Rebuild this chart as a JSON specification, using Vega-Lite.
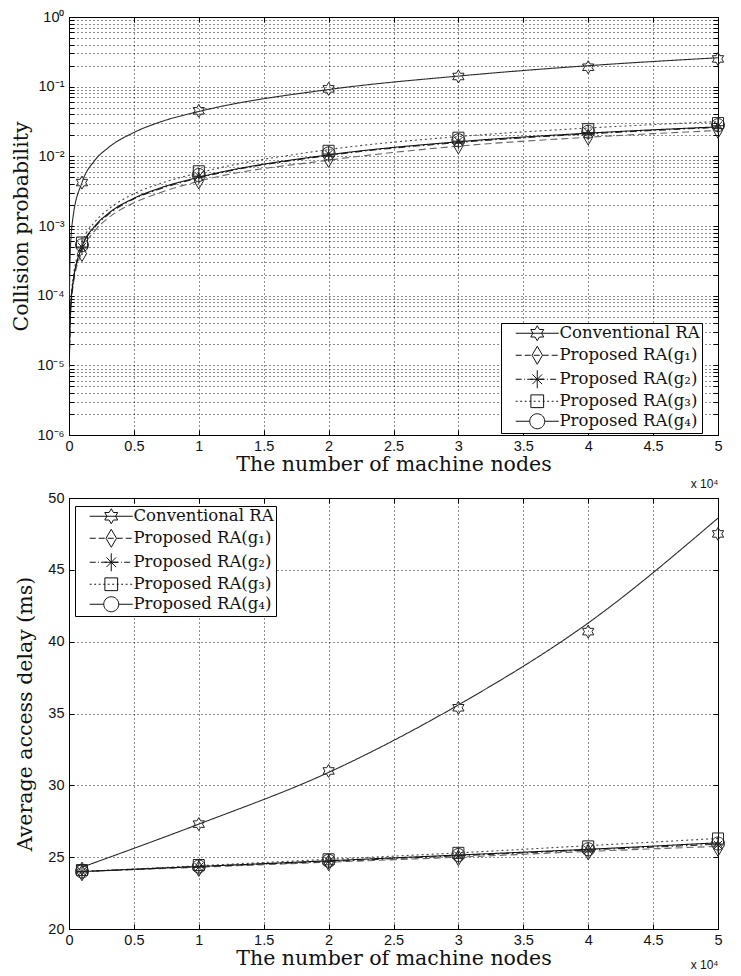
{
  "$schema": "https://vega.github.io/schema/vega-lite/v6.json",
  "autosize": {"type": "pad"},
  "padding": {"left": 11, "top": 8, "right": 0, "bottom": 0},
  "background": "white",
  "spacing": 63,
  "bounds": "flush",
  "config": {
    "view": {"stroke": "black", "strokeWidth": 1},
    "axis": {
      "domainColor": "black", "tickColor": "black", "labelColor": "#111",
      "labelFont": "Liberation Sans", "labelFontSize": 14.5,
      "titleFont": "DejaVu Serif", "titleFontSize": 20.5, "titleFontWeight": "normal", "titleColor": "#111",
      "gridColor": "#000", "gridDash": [1, 3], "gridOpacity": 0.9, "gridWidth": 1,
      "tickSize": -5, "labelOverlap": false, "labelFlush": false
    }
  },
  "datasets": {
    "topLine": [
      {"x": 0.002, "y": 0.000086, "series": "Conventional RA"},
      {"x": 0.01, "y": 0.00043, "series": "Conventional RA"},
      {"x": 0.03, "y": 0.0013, "series": "Conventional RA"},
      {"x": 0.1, "y": 0.0042, "series": "Conventional RA"},
      {"x": 0.2, "y": 0.0088, "series": "Conventional RA"},
      {"x": 0.3, "y": 0.0132, "series": "Conventional RA"},
      {"x": 0.5, "y": 0.022, "series": "Conventional RA"},
      {"x": 0.7, "y": 0.031, "series": "Conventional RA"},
      {"x": 1, "y": 0.044, "series": "Conventional RA"},
      {"x": 2, "y": 0.091, "series": "Conventional RA"},
      {"x": 3, "y": 0.142, "series": "Conventional RA"},
      {"x": 4, "y": 0.2, "series": "Conventional RA"},
      {"x": 5, "y": 0.26, "series": "Conventional RA"},
      {"x": 0.002, "y": 0.0000085, "series": "Proposed RA(g₁)"},
      {"x": 0.01, "y": 0.000043, "series": "Proposed RA(g₁)"},
      {"x": 0.03, "y": 0.00013, "series": "Proposed RA(g₁)"},
      {"x": 0.1, "y": 0.00043, "series": "Proposed RA(g₁)"},
      {"x": 0.2, "y": 0.00086, "series": "Proposed RA(g₁)"},
      {"x": 0.3, "y": 0.00129, "series": "Proposed RA(g₁)"},
      {"x": 0.5, "y": 0.00215, "series": "Proposed RA(g₁)"},
      {"x": 0.7, "y": 0.003, "series": "Proposed RA(g₁)"},
      {"x": 1, "y": 0.0044, "series": "Proposed RA(g₁)"},
      {"x": 2, "y": 0.0088, "series": "Proposed RA(g₁)"},
      {"x": 3, "y": 0.014, "series": "Proposed RA(g₁)"},
      {"x": 4, "y": 0.0188, "series": "Proposed RA(g₁)"},
      {"x": 5, "y": 0.0235, "series": "Proposed RA(g₁)"},
      {"x": 0.002, "y": 0.0000095, "series": "Proposed RA(g₂)"},
      {"x": 0.01, "y": 0.000048, "series": "Proposed RA(g₂)"},
      {"x": 0.03, "y": 0.000145, "series": "Proposed RA(g₂)"},
      {"x": 0.1, "y": 0.00048, "series": "Proposed RA(g₂)"},
      {"x": 0.2, "y": 0.00097, "series": "Proposed RA(g₂)"},
      {"x": 0.3, "y": 0.00145, "series": "Proposed RA(g₂)"},
      {"x": 0.5, "y": 0.00245, "series": "Proposed RA(g₂)"},
      {"x": 0.7, "y": 0.0034, "series": "Proposed RA(g₂)"},
      {"x": 1, "y": 0.0049, "series": "Proposed RA(g₂)"},
      {"x": 2, "y": 0.0103, "series": "Proposed RA(g₂)"},
      {"x": 3, "y": 0.0158, "series": "Proposed RA(g₂)"},
      {"x": 4, "y": 0.021, "series": "Proposed RA(g₂)"},
      {"x": 5, "y": 0.026, "series": "Proposed RA(g₂)"},
      {"x": 0.002, "y": 0.0000115, "series": "Proposed RA(g₃)"},
      {"x": 0.01, "y": 0.000057, "series": "Proposed RA(g₃)"},
      {"x": 0.03, "y": 0.00017, "series": "Proposed RA(g₃)"},
      {"x": 0.1, "y": 0.00057, "series": "Proposed RA(g₃)"},
      {"x": 0.2, "y": 0.00115, "series": "Proposed RA(g₃)"},
      {"x": 0.3, "y": 0.00172, "series": "Proposed RA(g₃)"},
      {"x": 0.5, "y": 0.0029, "series": "Proposed RA(g₃)"},
      {"x": 0.7, "y": 0.00405, "series": "Proposed RA(g₃)"},
      {"x": 1, "y": 0.0058, "series": "Proposed RA(g₃)"},
      {"x": 2, "y": 0.0125, "series": "Proposed RA(g₃)"},
      {"x": 3, "y": 0.0192, "series": "Proposed RA(g₃)"},
      {"x": 4, "y": 0.0255, "series": "Proposed RA(g₃)"},
      {"x": 5, "y": 0.0315, "series": "Proposed RA(g₃)"},
      {"x": 0.002, "y": 0.00001, "series": "Proposed RA(g₄)"},
      {"x": 0.01, "y": 0.00005, "series": "Proposed RA(g₄)"},
      {"x": 0.03, "y": 0.00015, "series": "Proposed RA(g₄)"},
      {"x": 0.1, "y": 0.0005, "series": "Proposed RA(g₄)"},
      {"x": 0.2, "y": 0.001, "series": "Proposed RA(g₄)"},
      {"x": 0.3, "y": 0.0015, "series": "Proposed RA(g₄)"},
      {"x": 0.5, "y": 0.0025, "series": "Proposed RA(g₄)"},
      {"x": 0.7, "y": 0.0035, "series": "Proposed RA(g₄)"},
      {"x": 1, "y": 0.005, "series": "Proposed RA(g₄)"},
      {"x": 2, "y": 0.0105, "series": "Proposed RA(g₄)"},
      {"x": 3, "y": 0.0162, "series": "Proposed RA(g₄)"},
      {"x": 4, "y": 0.0215, "series": "Proposed RA(g₄)"},
      {"x": 5, "y": 0.0265, "series": "Proposed RA(g₄)"}
    ],
    "topSim": [
      {"x": 0.1, "y": 0.0042, "series": "Conventional RA"},
      {"x": 1, "y": 0.045, "series": "Conventional RA"},
      {"x": 2, "y": 0.093, "series": "Conventional RA"},
      {"x": 3, "y": 0.14, "series": "Conventional RA"},
      {"x": 4, "y": 0.19, "series": "Conventional RA"},
      {"x": 5, "y": 0.25, "series": "Conventional RA"},
      {"x": 0.1, "y": 0.0004, "series": "Proposed RA(g₁)"},
      {"x": 1, "y": 0.0044, "series": "Proposed RA(g₁)"},
      {"x": 2, "y": 0.009, "series": "Proposed RA(g₁)"},
      {"x": 3, "y": 0.014, "series": "Proposed RA(g₁)"},
      {"x": 4, "y": 0.0188, "series": "Proposed RA(g₁)"},
      {"x": 5, "y": 0.0235, "series": "Proposed RA(g₁)"},
      {"x": 0.1, "y": 0.0005, "series": "Proposed RA(g₂)"},
      {"x": 1, "y": 0.0052, "series": "Proposed RA(g₂)"},
      {"x": 2, "y": 0.0108, "series": "Proposed RA(g₂)"},
      {"x": 3, "y": 0.0165, "series": "Proposed RA(g₂)"},
      {"x": 4, "y": 0.022, "series": "Proposed RA(g₂)"},
      {"x": 5, "y": 0.0275, "series": "Proposed RA(g₂)"},
      {"x": 0.1, "y": 0.00058, "series": "Proposed RA(g₃)"},
      {"x": 1, "y": 0.0061, "series": "Proposed RA(g₃)"},
      {"x": 2, "y": 0.012, "series": "Proposed RA(g₃)"},
      {"x": 3, "y": 0.0185, "series": "Proposed RA(g₃)"},
      {"x": 4, "y": 0.0245, "series": "Proposed RA(g₃)"},
      {"x": 5, "y": 0.03, "series": "Proposed RA(g₃)"},
      {"x": 0.1, "y": 0.00053, "series": "Proposed RA(g₄)"},
      {"x": 1, "y": 0.0054, "series": "Proposed RA(g₄)"},
      {"x": 2, "y": 0.011, "series": "Proposed RA(g₄)"},
      {"x": 3, "y": 0.017, "series": "Proposed RA(g₄)"},
      {"x": 4, "y": 0.0225, "series": "Proposed RA(g₄)"},
      {"x": 5, "y": 0.028, "series": "Proposed RA(g₄)"}
    ],
    "botLine": [
      {"x": 0.1, "y": 24.3, "series": "Conventional RA"},
      {"x": 1, "y": 27.3, "series": "Conventional RA"},
      {"x": 2, "y": 30.9, "series": "Conventional RA"},
      {"x": 3, "y": 35.6, "series": "Conventional RA"},
      {"x": 4, "y": 41.3, "series": "Conventional RA"},
      {"x": 5, "y": 48.6, "series": "Conventional RA"},
      {"x": 0.1, "y": 24.0, "series": "Proposed RA(g₁)"},
      {"x": 1, "y": 24.3, "series": "Proposed RA(g₁)"},
      {"x": 2, "y": 24.65, "series": "Proposed RA(g₁)"},
      {"x": 3, "y": 25.0, "series": "Proposed RA(g₁)"},
      {"x": 4, "y": 25.4, "series": "Proposed RA(g₁)"},
      {"x": 5, "y": 25.75, "series": "Proposed RA(g₁)"},
      {"x": 0.1, "y": 24.0, "series": "Proposed RA(g₂)"},
      {"x": 1, "y": 24.35, "series": "Proposed RA(g₂)"},
      {"x": 2, "y": 24.7, "series": "Proposed RA(g₂)"},
      {"x": 3, "y": 25.1, "series": "Proposed RA(g₂)"},
      {"x": 4, "y": 25.5, "series": "Proposed RA(g₂)"},
      {"x": 5, "y": 25.9, "series": "Proposed RA(g₂)"},
      {"x": 0.1, "y": 24.0, "series": "Proposed RA(g₃)"},
      {"x": 1, "y": 24.4, "series": "Proposed RA(g₃)"},
      {"x": 2, "y": 24.85, "series": "Proposed RA(g₃)"},
      {"x": 3, "y": 25.3, "series": "Proposed RA(g₃)"},
      {"x": 4, "y": 25.8, "series": "Proposed RA(g₃)"},
      {"x": 5, "y": 26.3, "series": "Proposed RA(g₃)"},
      {"x": 0.1, "y": 24.0, "series": "Proposed RA(g₄)"},
      {"x": 1, "y": 24.35, "series": "Proposed RA(g₄)"},
      {"x": 2, "y": 24.75, "series": "Proposed RA(g₄)"},
      {"x": 3, "y": 25.15, "series": "Proposed RA(g₄)"},
      {"x": 4, "y": 25.55, "series": "Proposed RA(g₄)"},
      {"x": 5, "y": 26.0, "series": "Proposed RA(g₄)"}
    ],
    "botSim": [
      {"x": 0.1, "y": 24.2, "series": "Conventional RA"},
      {"x": 1, "y": 27.3, "series": "Conventional RA"},
      {"x": 2, "y": 31.0, "series": "Conventional RA"},
      {"x": 3, "y": 35.4, "series": "Conventional RA"},
      {"x": 4, "y": 40.7, "series": "Conventional RA"},
      {"x": 5, "y": 47.5, "series": "Conventional RA"},
      {"x": 0.1, "y": 23.9, "series": "Proposed RA(g₁)"},
      {"x": 1, "y": 24.2, "series": "Proposed RA(g₁)"},
      {"x": 2, "y": 24.6, "series": "Proposed RA(g₁)"},
      {"x": 3, "y": 24.95, "series": "Proposed RA(g₁)"},
      {"x": 4, "y": 25.35, "series": "Proposed RA(g₁)"},
      {"x": 5, "y": 25.6, "series": "Proposed RA(g₁)"},
      {"x": 0.1, "y": 24.0, "series": "Proposed RA(g₂)"},
      {"x": 1, "y": 24.3, "series": "Proposed RA(g₂)"},
      {"x": 2, "y": 24.7, "series": "Proposed RA(g₂)"},
      {"x": 3, "y": 25.1, "series": "Proposed RA(g₂)"},
      {"x": 4, "y": 25.5, "series": "Proposed RA(g₂)"},
      {"x": 5, "y": 25.85, "series": "Proposed RA(g₂)"},
      {"x": 0.1, "y": 24.1, "series": "Proposed RA(g₃)"},
      {"x": 1, "y": 24.45, "series": "Proposed RA(g₃)"},
      {"x": 2, "y": 24.85, "series": "Proposed RA(g₃)"},
      {"x": 3, "y": 25.3, "series": "Proposed RA(g₃)"},
      {"x": 4, "y": 25.75, "series": "Proposed RA(g₃)"},
      {"x": 5, "y": 26.3, "series": "Proposed RA(g₃)"},
      {"x": 0.1, "y": 24.0, "series": "Proposed RA(g₄)"},
      {"x": 1, "y": 24.35, "series": "Proposed RA(g₄)"},
      {"x": 2, "y": 24.75, "series": "Proposed RA(g₄)"},
      {"x": 3, "y": 25.15, "series": "Proposed RA(g₄)"},
      {"x": 4, "y": 25.55, "series": "Proposed RA(g₄)"},
      {"x": 5, "y": 25.95, "series": "Proposed RA(g₄)"}
    ]
  },
  "vconcat": [
    {
      "width": 649,
      "height": 418,
      "layer": [
        {
          "data": {"name": "topLine"},
          "mark": {"type": "line", "interpolate": "monotone", "strokeWidth": 1.1, "clip": true},
          "encoding": {
            "x": {"field": "x", "type": "quantitative", "scale": {"domain": [0, 5], "nice": false, "zero": false},
              "axis": {"orient": "bottom", "values": [0, 0.5, 1, 1.5, 2, 2.5, 3, 3.5, 4, 4.5, 5], "grid": true, "format": "~g", "labelPadding": 9, "title": "The number of machine nodes", "titlePadding": 2}},
            "y": {"field": "y", "type": "quantitative", "scale": {"type": "log", "domain": [0.000001, 1], "nice": false},
              "axis": {"orient": "left", "grid": true, "labelPadding": 10, "title": "Collision probability", "titlePadding": 5,
                "values": [1e-6, 2e-6, 3e-6, 4e-6, 5e-6, 6e-6, 7e-6, 8e-6, 9e-6, 1e-5, 2e-5, 3e-5, 4e-5, 5e-5, 6e-5, 7e-5, 8e-5, 9e-5, 1e-4, 2e-4, 3e-4, 4e-4, 5e-4, 6e-4, 7e-4, 8e-4, 9e-4, 1e-3, 2e-3, 3e-3, 4e-3, 5e-3, 6e-3, 7e-3, 8e-3, 9e-3, 0.01, 0.02, 0.03, 0.04, 0.05, 0.06, 0.07, 0.08, 0.09, 0.1, 0.2, 0.3, 0.4, 0.5, 0.6, 0.7, 0.8, 0.9, 1],
                "labelExpr": "abs(log(datum.value)/LN10 - round(log(datum.value)/LN10)) < 0.01 ? '10' + ['⁰','⁻¹','⁻²','⁻³','⁻⁴','⁻⁵','⁻⁶'][round(-log(datum.value)/LN10)] : ''"}},
            "strokeDash": {"field": "series", "type": "nominal", "legend": null,
              "scale": {"domain": ["Conventional RA", "Proposed RA(g₁)", "Proposed RA(g₂)", "Proposed RA(g₃)", "Proposed RA(g₄)"], "range": [[1, 0], [7, 4], [7, 3, 1.5, 3], [2, 3], [1, 0]]}},
            "color": {"field": "series", "type": "nominal", "legend": null,
              "scale": {"domain": ["Conventional RA", "Proposed RA(g₁)", "Proposed RA(g₂)", "Proposed RA(g₃)", "Proposed RA(g₄)"], "range": ["#2a2a2a", "#666666", "#222222", "#444444", "#111111"]}}
          }
        },
        {
          "data": {"name": "topSim"},
          "mark": {"type": "point", "filled": false, "size": 169, "strokeWidth": 1, "color": "#222", "opacity": 1},
          "encoding": {
            "x": {"field": "x", "type": "quantitative", "axis": {"orient": "top", "labels": false, "grid": false, "title": null, "values": [0, 0.5, 1, 1.5, 2, 2.5, 3, 3.5, 4, 4.5, 5]}},
            "y": {"field": "y", "type": "quantitative", "axis": {"orient": "right", "labels": false, "grid": false, "title": null,
              "values": [1e-6, 2e-6, 3e-6, 4e-6, 5e-6, 6e-6, 7e-6, 8e-6, 9e-6, 1e-5, 2e-5, 3e-5, 4e-5, 5e-5, 6e-5, 7e-5, 8e-5, 9e-5, 1e-4, 2e-4, 3e-4, 4e-4, 5e-4, 6e-4, 7e-4, 8e-4, 9e-4, 1e-3, 2e-3, 3e-3, 4e-3, 5e-3, 6e-3, 7e-3, 8e-3, 9e-3, 0.01, 0.02, 0.03, 0.04, 0.05, 0.06, 0.07, 0.08, 0.09, 0.1, 0.2, 0.3, 0.4, 0.5, 0.6, 0.7, 0.8, 0.9, 1]}},
            "shape": {"field": "series", "type": "nominal", "legend": null,
              "scale": {"domain": ["Conventional RA", "Proposed RA(g₁)", "Proposed RA(g₂)", "Proposed RA(g₃)", "Proposed RA(g₄)"],
                "range": [
                  "M0,-1L0.289,-0.5L0.866,-0.5L0.577,0L0.866,0.5L0.289,0.5L0,1L-0.289,0.5L-0.866,0.5L-0.577,0L-0.866,-0.5L-0.289,-0.5Z",
                  "M0,-1.2L0.7,0L0,1.2L-0.7,0Z",
                  "M-0.9,0L0.9,0M0,-1.2L0,1.2M-0.65,-0.65L0.65,0.65M-0.65,0.65L0.65,-0.65",
                  "M-0.85,-0.85L0.85,-0.85L0.85,0.85L-0.85,0.85Z",
                  "M1,0A1,1,0,1,1,-1,0A1,1,0,1,1,1,0Z"
                ]}}
          }
        },
        {
          "data": {"name": "topSim"},
          "mark": {"type": "point", "filled": false, "opacity": 0},
          "encoding": {
            "x": {"field": "x", "type": "quantitative", "axis": {"orient": "bottom", "labels": false, "ticks": false, "domain": false, "grid": false, "title": "x 10⁴", "titleAnchor": "end", "titleFont": "Liberation Sans", "titleFontSize": 12, "titlePadding": 43}},
            "y": {"field": "y", "type": "quantitative", "axis": null},
            "shape": {"field": "series", "type": "nominal",
              "scale": {"domain": ["Conventional RA", "Proposed RA(g₁)", "Proposed RA(g₂)", "Proposed RA(g₃)", "Proposed RA(g₄)"],
                "range": [
                  "M-2.87,0L2.87,0M0,-1L0.289,-0.5L0.866,-0.5L0.577,0L0.866,0.5L0.289,0.5L0,1L-0.289,0.5L-0.866,0.5L-0.577,0L-0.866,-0.5L-0.289,-0.5Z",
                  "M-2.87,0L-2.07,0M-1.67,0L-0.87,0M-0.47,0L0.33,0M0.73,0L1.53,0M1.93,0L2.73,0M0,-1.2L0.7,0L0,1.2L-0.7,0Z",
                  "M-2.87,0L-2.07,0M-1.77,0L-1.64,0M-1.34,0L-0.54,0M-0.24,0L-0.11,0M0.19,0L0.99,0M1.29,0L1.42,0M1.72,0L2.52,0M-0.9,0L0.9,0M0,-1.2L0,1.2M-0.65,-0.65L0.65,0.65M-0.65,0.65L0.65,-0.65",
                  "M-2.87,0L-2.62,0M-2.27,0L-2.02,0M-1.67,0L-1.42,0M-1.07,0L-0.82,0M-0.47,0L-0.22,0M0.13,0L0.38,0M0.73,0L0.98,0M1.33,0L1.58,0M1.93,0L2.18,0M2.53,0L2.78,0M-0.85,-0.85L0.85,-0.85L0.85,0.85L-0.85,0.85Z",
                  "M-2.87,0L-1,0M1,0L2.87,0M1,0A1,1,0,1,1,-1,0A1,1,0,1,1,1,0Z"
                ]},
              "legend": {"orient": "none", "legendX": 432, "legendY": 306, "title": null, "fillColor": "white", "strokeColor": "#000", "padding": 2,
                "symbolSize": 225, "symbolOpacity": 1, "symbolFillColor": "transparent", "symbolStrokeColor": "#111", "symbolStrokeWidth": 1,
                "symbolOffset": 26, "labelOffset": 14, "labelFont": "DejaVu Serif", "labelFontSize": 16.5, "labelColor": "#111", "rowPadding": 1, "cornerRadius": 0}}
          }
        }
      ],
      "resolve": {"axis": {"x": "independent", "y": "independent"}, "scale": {"shape": "independent"}}
    },
    {
      "width": 649,
      "height": 431,
      "layer": [
        {
          "data": {"name": "botLine"},
          "mark": {"type": "line", "interpolate": "monotone", "strokeWidth": 1.1, "clip": true},
          "encoding": {
            "x": {"field": "x", "type": "quantitative", "scale": {"domain": [0, 5], "nice": false, "zero": false},
              "axis": {"orient": "bottom", "values": [0, 0.5, 1, 1.5, 2, 2.5, 3, 3.5, 4, 4.5, 5], "grid": true, "format": "~g", "labelPadding": 9, "title": "The number of machine nodes", "titlePadding": 2}},
            "y": {"field": "y", "type": "quantitative", "scale": {"domain": [20, 50], "nice": false, "zero": false},
              "axis": {"orient": "left", "grid": true, "labelPadding": 10, "values": [20, 25, 30, 35, 40, 45, 50], "title": "Average access delay (ms)", "titlePadding": 12}},
            "strokeDash": {"field": "series", "type": "nominal", "legend": null,
              "scale": {"domain": ["Conventional RA", "Proposed RA(g₁)", "Proposed RA(g₂)", "Proposed RA(g₃)", "Proposed RA(g₄)"], "range": [[1, 0], [7, 4], [7, 3, 1.5, 3], [2, 3], [1, 0]]}},
            "color": {"field": "series", "type": "nominal", "legend": null,
              "scale": {"domain": ["Conventional RA", "Proposed RA(g₁)", "Proposed RA(g₂)", "Proposed RA(g₃)", "Proposed RA(g₄)"], "range": ["#2a2a2a", "#666666", "#222222", "#444444", "#111111"]}}
          }
        },
        {
          "data": {"name": "botSim"},
          "mark": {"type": "point", "filled": false, "size": 169, "strokeWidth": 1, "color": "#222", "opacity": 1},
          "encoding": {
            "x": {"field": "x", "type": "quantitative", "axis": {"orient": "top", "labels": false, "grid": false, "title": null, "values": [0, 0.5, 1, 1.5, 2, 2.5, 3, 3.5, 4, 4.5, 5]}},
            "y": {"field": "y", "type": "quantitative", "axis": {"orient": "right", "labels": false, "grid": false, "title": null, "values": [20, 25, 30, 35, 40, 45, 50]}},
            "shape": {"field": "series", "type": "nominal", "legend": null,
              "scale": {"domain": ["Conventional RA", "Proposed RA(g₁)", "Proposed RA(g₂)", "Proposed RA(g₃)", "Proposed RA(g₄)"],
                "range": [
                  "M0,-1L0.289,-0.5L0.866,-0.5L0.577,0L0.866,0.5L0.289,0.5L0,1L-0.289,0.5L-0.866,0.5L-0.577,0L-0.866,-0.5L-0.289,-0.5Z",
                  "M0,-1.2L0.7,0L0,1.2L-0.7,0Z",
                  "M-0.9,0L0.9,0M0,-1.2L0,1.2M-0.65,-0.65L0.65,0.65M-0.65,0.65L0.65,-0.65",
                  "M-0.85,-0.85L0.85,-0.85L0.85,0.85L-0.85,0.85Z",
                  "M1,0A1,1,0,1,1,-1,0A1,1,0,1,1,1,0Z"
                ]}}
          }
        },
        {
          "data": {"name": "botSim"},
          "mark": {"type": "point", "filled": false, "opacity": 0},
          "encoding": {
            "x": {"field": "x", "type": "quantitative", "axis": {"orient": "bottom", "labels": false, "ticks": false, "domain": false, "grid": false, "title": "x 10⁴", "titleAnchor": "end", "titleFont": "Liberation Sans", "titleFontSize": 12, "titlePadding": 30}},
            "y": {"field": "y", "type": "quantitative", "axis": null},
            "shape": {"field": "series", "type": "nominal",
              "scale": {"domain": ["Conventional RA", "Proposed RA(g₁)", "Proposed RA(g₂)", "Proposed RA(g₃)", "Proposed RA(g₄)"],
                "range": [
                  "M-2.87,0L2.87,0M0,-1L0.289,-0.5L0.866,-0.5L0.577,0L0.866,0.5L0.289,0.5L0,1L-0.289,0.5L-0.866,0.5L-0.577,0L-0.866,-0.5L-0.289,-0.5Z",
                  "M-2.87,0L-2.07,0M-1.67,0L-0.87,0M-0.47,0L0.33,0M0.73,0L1.53,0M1.93,0L2.73,0M0,-1.2L0.7,0L0,1.2L-0.7,0Z",
                  "M-2.87,0L-2.07,0M-1.77,0L-1.64,0M-1.34,0L-0.54,0M-0.24,0L-0.11,0M0.19,0L0.99,0M1.29,0L1.42,0M1.72,0L2.52,0M-0.9,0L0.9,0M0,-1.2L0,1.2M-0.65,-0.65L0.65,0.65M-0.65,0.65L0.65,-0.65",
                  "M-2.87,0L-2.62,0M-2.27,0L-2.02,0M-1.67,0L-1.42,0M-1.07,0L-0.82,0M-0.47,0L-0.22,0M0.13,0L0.38,0M0.73,0L0.98,0M1.33,0L1.58,0M1.93,0L2.18,0M2.53,0L2.78,0M-0.85,-0.85L0.85,-0.85L0.85,0.85L-0.85,0.85Z",
                  "M-2.87,0L-1,0M1,0L2.87,0M1,0A1,1,0,1,1,-1,0A1,1,0,1,1,1,0Z"
                ]},
              "legend": {"orient": "none", "legendX": 6, "legendY": 8, "title": null, "fillColor": "white", "strokeColor": "#000", "padding": 2,
                "symbolSize": 225, "symbolOpacity": 1, "symbolFillColor": "transparent", "symbolStrokeColor": "#111", "symbolStrokeWidth": 1,
                "symbolOffset": 26, "labelOffset": 14, "labelFont": "DejaVu Serif", "labelFontSize": 16.5, "labelColor": "#111", "rowPadding": 1, "cornerRadius": 0}}
          }
        }
      ],
      "resolve": {"axis": {"x": "independent", "y": "independent"}, "scale": {"shape": "independent"}}
    }
  ]
}
